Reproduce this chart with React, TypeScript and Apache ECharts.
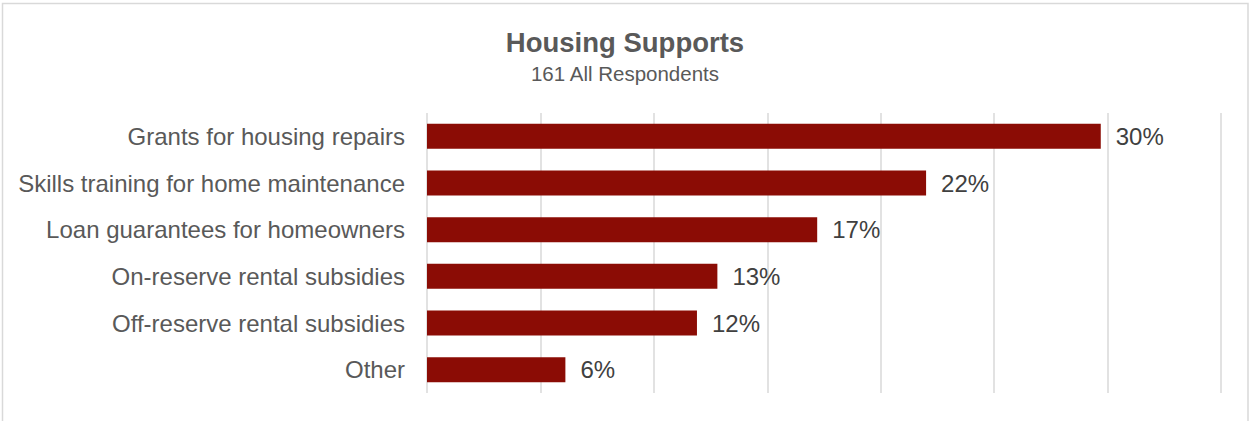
import React, { useEffect, useRef } from "react";
import * as echarts from "echarts";

const categories = [
  "Grants for housing repairs",
  "Skills training for home maintenance",
  "Loan guarantees for homeowners",
  "On-reserve rental subsidies",
  "Off-reserve rental subsidies",
  "Other",
];
const values = [29.7, 22.0, 17.2, 12.8, 11.9, 6.1];
const titleText = "Housing Supports";
const subtitleText = "161 All Respondents";

const FONT = "'Liberation Sans', Arial, sans-serif";

export default function App() {
  const ref = useRef<HTMLDivElement>(null);
  useEffect(() => {
    if (!ref.current) return;
    const chart = echarts.init(ref.current, null, { renderer: "svg" });
    chart.setOption({
      animation: false,
      backgroundColor: "#ffffff",
      textStyle: { fontFamily: FONT },
      graphic: [
        {
          type: "rect",
          shape: { x: 2.5, y: 3.5, width: 1245.5, height: 440 },
          style: { fill: "none", stroke: "#d9d9d9", lineWidth: 1.5 },
          silent: true,
        },
        {
          type: "text",
          x: 625,
          y: 42,
          style: {
            text: titleText,
            fontFamily: FONT,
            fontSize: 27.5,
            fontWeight: "bold",
            fill: "#595959",
            align: "center",
            verticalAlign: "middle",
          },
        },
        {
          type: "text",
          x: 625,
          y: 73,
          style: {
            text: subtitleText,
            fontFamily: FONT,
            fontSize: 20.5,
            fill: "#595959",
            align: "center",
            verticalAlign: "middle",
          },
        },
      ],
      grid: { left: 427, right: 29, top: 113, bottom: 28, containLabel: false },
      xAxis: {
        type: "value",
        min: 0,
        max: 35,
        interval: 5,
        axisLabel: { show: false },
        axisLine: { show: false },
        axisTick: { show: false },
        splitLine: { show: true, lineStyle: { color: "#d9d9d9", width: 1.5 } },
      },
      yAxis: {
        type: "category",
        data: categories,
        inverse: true,
        axisLine: { show: false },
        axisTick: { show: false },
        axisLabel: {
          margin: 22,
          fontSize: 24,
          color: "#595959",
          fontFamily: FONT,
        },
      },
      series: [
        {
          type: "bar",
          data: values,
          barWidth: 25,
          itemStyle: { color: "#8b0c05" },
          label: {
            show: true,
            position: "right",
            distance: 15,
            fontSize: 24,
            color: "#404040",
            fontFamily: FONT,
            formatter: (p: any) => Math.round(p.value) + "%",
          },
        },
      ],
    });
    return () => chart.dispose();
  }, []);
  return (
    <div
      ref={ref}
      style={{ position: "absolute", left: 0, top: 0, width: 1250, height: 421 }}
    />
  );
}
